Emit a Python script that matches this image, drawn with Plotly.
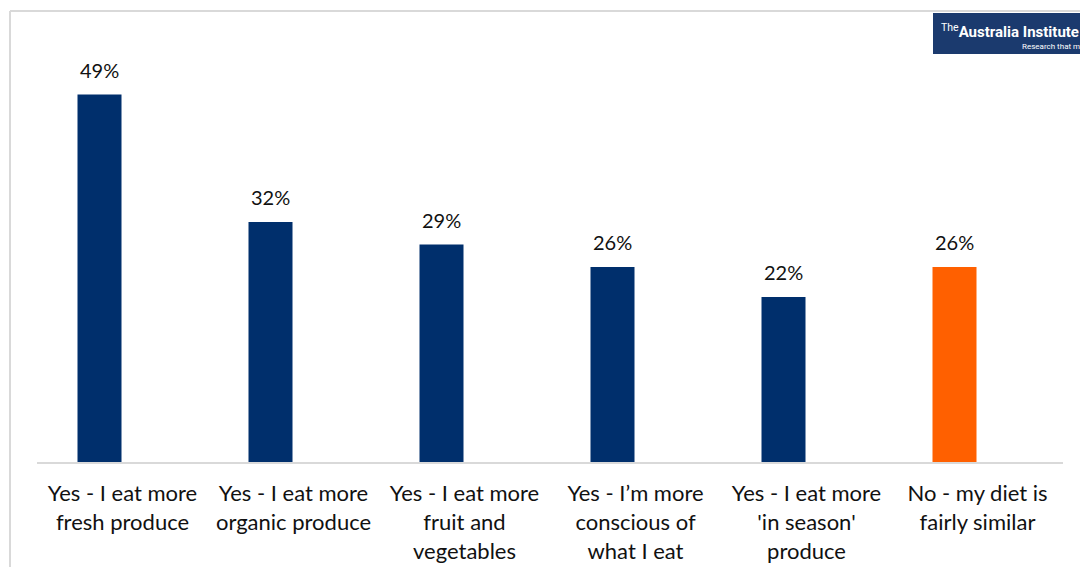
import plotly.graph_objects as go

# Survey responses: change in eating habits
categories = [
    "Yes - I eat more<br>fresh produce",
    "Yes - I eat more<br>organic produce",
    "Yes - I eat more<br>fruit and<br>vegetables",
    "Yes - I’m more<br>conscious of<br>what I eat",
    "Yes - I eat more<br>'in season'<br>produce",
    "No - my diet is<br>fairly similar",
]
values = [49, 32, 29, 26, 22, 26]
bar_colors = ["#002F6C", "#002F6C", "#002F6C", "#002F6C", "#002F6C", "#FF6000"]

FONT = "Lato"
W, H = 1080, 567
ML, MR, MT, MB = 37, 17, 12, 105
plot_w = W - ML - MR
plot_h = H - MT - MB
cat_px = plot_w / len(categories)

# bars sit left of the category centre (clustered slot with an empty partner)
BAR_W = 44 / cat_px
BAR_OFF = -45 / cat_px


def px_x(px):
    return (px - ML) / plot_w


def px_y(py):
    return (H - MB - py) / plot_h


fig = go.Figure(
    go.Bar(
        x=categories,
        y=values,
        width=BAR_W,
        offset=BAR_OFF,
        marker=dict(color=bar_colors, line=dict(width=0)),
        hoverinfo="skip",
    )
)

# value labels above bars
for c, v in zip(categories, values):
    fig.add_annotation(
        x=c, y=v, text=f"{v}%", showarrow=False,
        yanchor="bottom", yshift=11, xshift=-23,
        font=dict(family=FONT, size=20, color="#111111"),
    )

# outer frame (top and left edges)
frame = dict(color="#D9D9D9", width=2)
fig.add_shape(type="line", xref="paper", yref="paper",
              x0=px_x(10), x1=px_x(1085), y0=px_y(11), y1=px_y(11), line=frame)
fig.add_shape(type="line", xref="paper", yref="paper",
              x0=px_x(10), x1=px_x(10), y0=px_y(11), y1=px_y(570), line=frame)

# logo block
fig.add_shape(type="rect", xref="paper", yref="paper",
              x0=px_x(933), x1=px_x(1090), y0=px_y(54), y1=px_y(13),
              fillcolor="#1B3A6E", line=dict(width=0), layer="above")
fig.add_annotation(
    xref="paper", yref="paper", x=px_x(939), y=px_y(31),
    xanchor="left", yanchor="middle", showarrow=False,
    text="<sup>The</sup><b>Australia Institute</b>",
    font=dict(family="Roboto", size=15, color="white"),
)
fig.add_annotation(
    xref="paper", yref="paper", x=px_x(1020), y=px_y(46),
    xanchor="left", yanchor="middle", showarrow=False,
    text="Research that matters",
    font=dict(family="Roboto", size=8, color="white"),
)

fig.update_layout(
    width=W, height=H,
    margin=dict(l=ML, r=MR, t=MT, b=MB),
    paper_bgcolor="white", plot_bgcolor="white",
    showlegend=False,
    font=dict(family=FONT, color="#111111"),
    xaxis=dict(
        showline=True, linecolor="#D9D9D9", linewidth=2,
        ticks="", showgrid=False, automargin=False,
        tickfont=dict(family=FONT, size=22, color="#111111"),
        ticklabelstandoff=11,
    ),
    yaxis=dict(range=[0, 60], visible=False, showgrid=False, zeroline=False),
)

fig.write_html("out.html")
